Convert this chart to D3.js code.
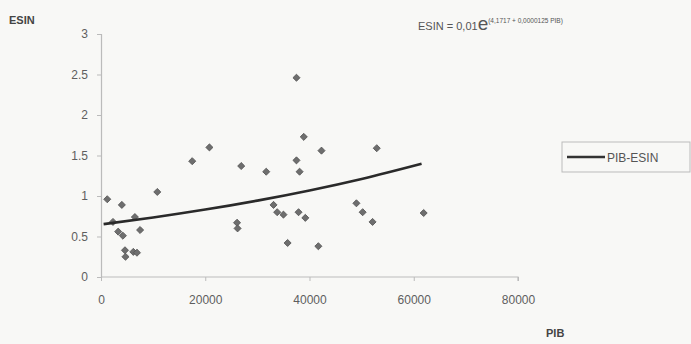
<!DOCTYPE html>
<html>
<head>
<meta charset="utf-8">
<script src="https://cdn.jsdelivr.net/npm/d3@7"></script>
<style>
  body { margin: 0; background: #f8f8f6; }
  svg { display: block; font-family: Arial, "Liberation Sans", sans-serif; }
</style>
</head>
<body>
<div id="chart"></div>
<script>
// scatter points: PIB, ESIN
var pib = [1200, 2300, 3300, 4000, 4200, 4600, 4700, 6200, 6500, 6900, 7500, 10800,
           17500, 20800, 26100, 26200, 26900, 31700, 33100, 33800, 35000, 35800,
           37500, 37500, 37900, 38100, 38900, 39200, 41700, 42300, 49000, 50200,
           52100, 52900, 61900];
var esin = [0.96, 0.68, 0.56, 0.89, 0.51, 0.33, 0.25, 0.31, 0.74, 0.30, 0.58, 1.05,
            1.43, 1.60, 0.67, 0.60, 1.37, 1.30, 0.89, 0.80, 0.77, 0.42,
            2.46, 1.44, 0.80, 1.30, 1.73, 0.73, 0.38, 1.56, 0.91, 0.80,
            0.68, 1.59, 0.79];
// trend line samples: ESIN = 0.01 e^(4.1717 + 0.0000125 PIB)
var trendX = [500, 10000, 20000, 30000, 40000, 50000, 61500];
var xTicks = [0, 20000, 40000, 60000, 80000];
var yTicks = [0, 0.5, 1, 1.5, 2, 2.5, 3];

var W = 691, H = 344;
var svg = d3.select("#chart").append("svg")
    .attr("width", W).attr("height", H);

var x = d3.scaleLinear().domain([0, 80000]).range([101, 518]);
var y = d3.scaleLinear().domain([0, 3]).range([277, 34]);

var txt = "#5e5e5e";

// y axis
var yAxis = svg.append("g")
    .attr("transform", "translate(101,0)")
    .call(d3.axisLeft(y).tickValues(yTicks).tickSize(4).tickPadding(9)
      .tickFormat(function(d) { return String(d); }));
// x axis
var xAxis = svg.append("g")
    .attr("transform", "translate(0,277)")
    .call(d3.axisBottom(x).tickValues(xTicks).tickSize(4).tickPadding(14)
      .tickFormat(function(d) { return String(d); }));
[yAxis, xAxis].forEach(function(a) {
  a.select(".domain").attr("stroke", "#bbb").attr("stroke-width", 1.2);
  a.selectAll(".tick line").attr("stroke", "#bbb");
  a.selectAll("text").attr("fill", txt).style("font-size", "12px");
});
xAxis.select(".domain").attr("d", "M101,0H518V4");

// points (small diamonds)
svg.append("g").selectAll("path")
  .data(pib)
  .join("path")
    .attr("d", d3.symbol().type(d3.symbolSquare).size(25))
    .attr("transform", function(d, i) {
      return "translate(" + x(d) + "," + y(esin[i]) + ") rotate(45)";
    })
    .attr("fill", "#6e6e6e")
    .attr("stroke", "#555")
    .attr("stroke-width", 0.8);

// trend line
svg.append("path")
  .datum(trendX)
  .attr("fill", "none")
  .attr("stroke", "#2a2a2a")
  .attr("stroke-width", 2.6)
  .attr("d", d3.line()
    .x(function(d) { return x(d); })
    .y(function(d) { return y(0.01 * Math.exp(4.1717 + 0.0000125 * d)); })
    .curve(d3.curveMonotoneX));

// axis titles
svg.append("text").attr("x", 9).attr("y", 24)
  .attr("fill", "#444").style("font-size", "11px").style("font-weight", "bold")
  .text("ESIN");
svg.append("text").attr("x", 546).attr("y", 337)
  .attr("fill", "#444").style("font-size", "11px").style("font-weight", "bold")
  .text("PIB");

// equation
var eq = svg.append("text").attr("x", 418).attr("y", 30).attr("fill", "#555");
eq.append("tspan").style("font-size", "11px").text("ESIN = 0,01");
eq.append("tspan").style("font-size", "19px").text("e");
eq.append("tspan").attr("dy", -7).style("font-size", "6.5px").text("(4,1717 + 0,0000125 PIB)");

// legend
var lg = svg.append("g");
lg.append("rect").attr("x", 562).attr("y", 142).attr("width", 128).attr("height", 30)
  .attr("fill", "none").attr("stroke", "#bbb");
lg.append("line").attr("x1", 567).attr("x2", 605).attr("y1", 157).attr("y2", 157)
  .attr("stroke", "#333").attr("stroke-width", 2.6);
lg.append("text").attr("x", 607).attr("y", 161.5).attr("fill", "#555")
  .style("font-size", "12px").text("PIB-ESIN");
</script>
</body>
</html>
